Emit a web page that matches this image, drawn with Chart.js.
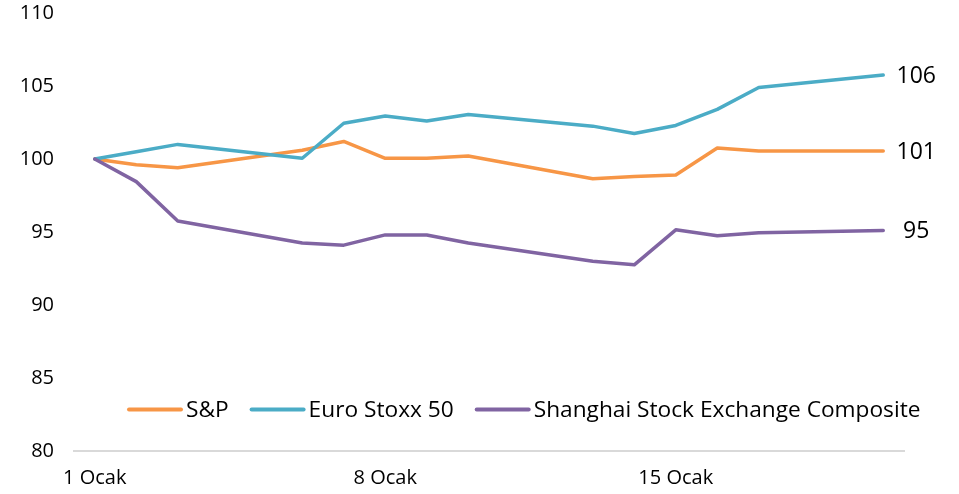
<!DOCTYPE html>
<html>
<head>
<meta charset="utf-8">
<script src="https://cdn.jsdelivr.net/npm/chart.js@4"></script>
<style>
  html, body { margin: 0; padding: 0; background: #fff; }
  #wrap { width: 959px; height: 494px; position: relative; }
</style>
</head>
<body>
<div id="wrap"><canvas id="c"></canvas></div>
<script>
// Categories: trading days of January (weekends have no values)
const categories = ['1 Ocak','2 Ocak','3 Ocak','4 Ocak','5 Ocak','6 Ocak','7 Ocak','8 Ocak','9 Ocak','10 Ocak',
                    '11 Ocak','12 Ocak','13 Ocak','14 Ocak','15 Ocak','16 Ocak','17 Ocak','18 Ocak','19 Ocak','20 Ocak'];
const shownTicks = ['1 Ocak','8 Ocak','15 Ocak'];

const seriesNames = ['S&P', 'Euro Stoxx 50', 'Shanghai Stock Exchange Composite'];
const spValues       = [100, 99.6, 99.4, null, null, 100.6, 101.2, 100.05, 100.05, 100.2, null, null, 98.65, 98.8, 98.9, 100.75, 100.55, null, null, 100.55];
const euroValues     = [100, 100.5, 101.0, null, null, 100.05, 102.45, 102.95, 102.6, 103.05, null, null, 102.25, 101.75, 102.3, 103.4, 104.9, null, null, 105.75];
const shanghaiValues = [100, 98.45, 95.75, null, null, 94.25, 94.1, 94.8, 94.8, 94.25, null, null, 93.0, 92.75, 95.15, 94.75, 94.95, null, null, 95.1];

const colors = ['#F79646', '#4BACC6', '#8064A2'];
const FONT = "'Open Sans', 'DejaVu Sans', sans-serif";

const endLabels = {
  id: 'endLabels',
  afterDatasetsDraw(chart) {
    const ctx = chart.ctx;
    ctx.save();
    ctx.font = '23px ' + FONT;
    ctx.fillStyle = '#000';
    ctx.textAlign = 'center';
    ctx.textBaseline = 'middle';
    chart.data.datasets.forEach((ds, i) => {
      const meta = chart.getDatasetMeta(i);
      let idx = ds.data.length - 1;
      while (idx >= 0 && ds.data[idx] == null) idx--;
      const pt = meta.data[idx];
      ctx.fillText(String(Math.round(ds.data[idx])), pt.x + 33, pt.y + 1);
    });
    ctx.restore();
  }
};

const innerLegend = {
  id: 'innerLegend',
  afterDraw(chart) {
    const ctx = chart.ctx;
    ctx.save();
    ctx.font = '22.7px ' + FONT;
    ctx.textBaseline = 'middle';
    ctx.textAlign = 'left';
    let x = 128;
    const y = 409.5;
    chart.data.datasets.forEach((ds) => {
      ctx.strokeStyle = ds.borderColor;
      ctx.lineWidth = 4;
      ctx.lineCap = 'round';
      ctx.beginPath();
      ctx.moveTo(x + 1, y);
      ctx.lineTo(x + 53, y);
      ctx.stroke();
      x += 58;
      ctx.fillStyle = '#000';
      ctx.fillText(ds.label, x, y + 1);
      x += ctx.measureText(ds.label).width + 22;
    });
    ctx.restore();
  }
};

new Chart(document.getElementById('c'), {
  type: 'line',
  data: {
    labels: categories,
    datasets: [
      { label: seriesNames[0], data: spValues, borderColor: colors[0], backgroundColor: colors[0], order: 3 },
      { label: seriesNames[1], data: euroValues, borderColor: colors[1], backgroundColor: colors[1], order: 2 },
      { label: seriesNames[2], data: shanghaiValues, borderColor: colors[2], backgroundColor: colors[2], order: 1 }
    ]
  },
  options: {
    responsive: true,
    maintainAspectRatio: false,
    animation: false,
    spanGaps: true,
    layout: { padding: { left: 0, right: 55, top: 0, bottom: 0 } },
    elements: {
      line: { borderWidth: 3.5, tension: 0, borderCapStyle: 'round', borderJoinStyle: 'round' },
      point: { radius: 0, hoverRadius: 0 }
    },
    plugins: {
      legend: { display: false },
      tooltip: { enabled: false }
    },
    scales: {
      x: {
        offset: true,
        grid: { display: false, drawTicks: false },
        border: { display: true, color: '#d9d9d9', width: 2 },
        ticks: {
          autoSkip: false,
          maxRotation: 0,
          padding: 15,
          color: '#000',
          font: { family: FONT, size: 20 },
          callback: function(v, i) {
            const l = this.getLabelForValue(v);
            return shownTicks.includes(l) ? l : '';
          }
        },
        afterFit(scale) { scale.height = 43; }
      },
      y: {
        min: 80,
        max: 110,
        grid: { display: false, drawTicks: true, tickLength: 19 },
        border: { display: false },
        ticks: {
          stepSize: 5,
          padding: 1,
          color: '#000',
          font: { family: FONT, size: 20 }
        },
        afterFit(scale) { scale.width = 74; }
      }
    }
  },
  plugins: [endLabels, innerLegend]
});
</script>
</body>
</html>
